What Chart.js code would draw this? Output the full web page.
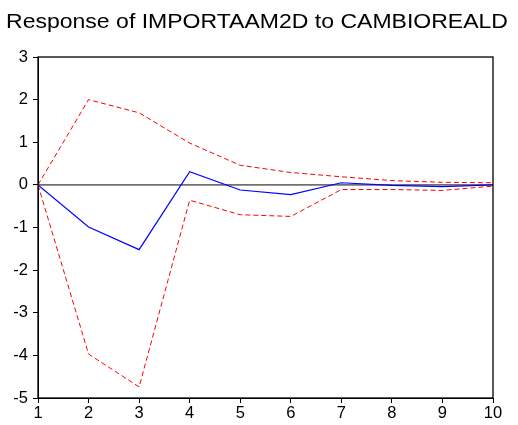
<!DOCTYPE html>
<html>
<head>
<meta charset="utf-8">
<script src="https://cdn.jsdelivr.net/npm/chart.js@4.4.0/dist/chart.umd.min.js"></script>
<style>
  html, body { margin: 0; padding: 0; background: #fff; }
  #wrap { width: 518px; height: 425px; }
</style>
</head>
<body>
<div id="wrap"><canvas id="irf"></canvas></div>
<script>
// Impulse response periods and values
const periods = [1, 2, 3, 4, 5, 6, 7, 8, 9, 10];
const response = [0, -0.99, -1.52, 0.31, -0.12, -0.23, 0.05, -0.01, -0.04, 0.0];
const upperBand = [0, 2.0, 1.69, 0.98, 0.46, 0.29, 0.19, 0.10, 0.06, 0.05];
const lowerBand = [0, -3.97, -4.74, -0.36, -0.70, -0.74, -0.11, -0.11, -0.13, -0.03];
const yTicks = [-5, -4, -3, -2, -1, 0, 1, 2, 3];
const titleText = 'Response of IMPORTAAM2D to CAMBIOREALD';

const toPoints = (vals) => vals.map((v, i) => ({ x: periods[i], y: v }));

// Draws the title, the zero line and the box round the plot
const framePlugin = {
    id: 'frame',
    beforeDatasetsDraw(chart) {
        const { ctx, chartArea, scales } = chart;
        const y0 = scales.y.getPixelForValue(0);
        ctx.save();
        ctx.strokeStyle = '#707070';
        ctx.lineWidth = 1.6;
        ctx.beginPath();
        ctx.moveTo(chartArea.left, y0);
        ctx.lineTo(chartArea.right, y0);
        ctx.stroke();
        ctx.restore();
    },
    afterDraw(chart) {
        const { ctx, chartArea } = chart;
        ctx.save();
        ctx.strokeStyle = '#000';
        ctx.lineWidth = 1.3;
        ctx.strokeRect(chartArea.left, chartArea.top, chartArea.right - chartArea.left, chartArea.bottom - chartArea.top);
        ctx.restore();

        // title, stretched a little sideways like the original
        ctx.save();
        ctx.fillStyle = '#000';
        ctx.font = '19.5px "Liberation Sans", Arial, sans-serif';
        ctx.textBaseline = 'middle';
        const w = ctx.measureText(titleText).width;
        const sx = 502 / w;
        ctx.translate(6, 23);
        ctx.scale(sx, 1);
        ctx.fillText(titleText, 0, 0);
        ctx.restore();
    }
};

new Chart(document.getElementById('irf').getContext('2d'), {
    type: 'line',
    data: {
        datasets: [
            {
                data: toPoints(upperBand),
                borderColor: '#ff0000',
                borderWidth: 1,
                borderDash: [5, 3],
                pointRadius: 0,
                tension: 0
            },
            {
                data: toPoints(lowerBand),
                borderColor: '#ff0000',
                borderWidth: 1,
                borderDash: [5, 3],
                pointRadius: 0,
                tension: 0
            },
            {
                data: toPoints(response),
                borderColor: '#0000ff',
                borderWidth: 1.2,
                pointRadius: 0,
                tension: 0
            }
        ]
    },
    options: {
        responsive: true,
        maintainAspectRatio: false,
        animation: false,
        events: [],
        layout: { padding: { top: 57, right: 25, left: 0, bottom: 0 } },
        plugins: {
            legend: { display: false },
            title: { display: false },
            tooltip: { enabled: false }
        },
        scales: {
            x: {
                type: 'linear',
                min: 1,
                max: 10,
                grid: { drawOnChartArea: false, drawTicks: true, tickLength: 5, color: '#000' },
                border: { display: true, color: '#000' },
                ticks: {
                    stepSize: 1,
                    color: '#000',
                    padding: 1,
                    maxRotation: 0,
                    font: { size: 16.5, family: '"Liberation Sans", Arial, sans-serif' }
                },
                afterFit(scale) { scale.height = 27; }
            },
            y: {
                min: -5,
                max: 3,
                grid: { drawOnChartArea: false, drawTicks: true, tickLength: 5, color: '#000' },
                border: { display: true, color: '#000' },
                afterBuildTicks(scale) { scale.ticks = yTicks.map(v => ({ value: v })); },
                ticks: {
                    color: '#000',
                    padding: 5,
                    font: { size: 16.5, family: '"Liberation Sans", Arial, sans-serif' }
                },
                afterFit(scale) { scale.width = 38; }
            }
        }
    },
    plugins: [framePlugin]
});
</script>
</body>
</html>
